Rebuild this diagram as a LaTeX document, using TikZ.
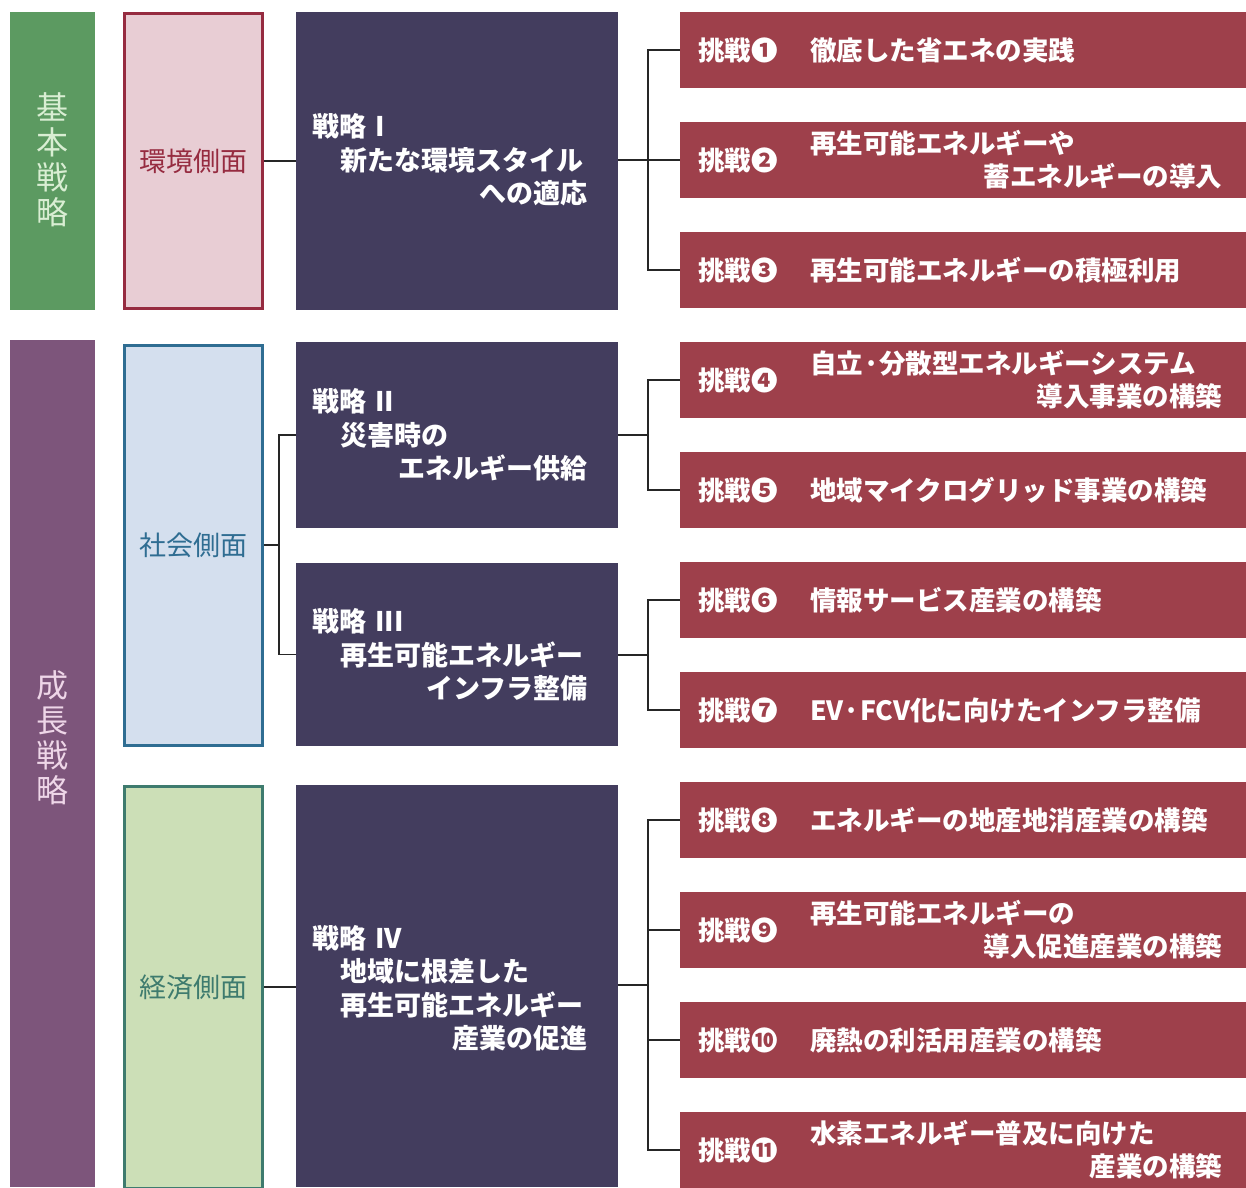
\documentclass[tikz,border=0pt]{standalone}
\usepackage{fontspec}
\setmainfont{Noto Sans CJK JP}
\usetikzlibrary{positioning}

\definecolor{basefill}{HTML}{5C9A61}
\definecolor{basetext}{HTML}{D9EED3}
\definecolor{growfill}{HTML}{7D557B}
\definecolor{growtext}{HTML}{EED6E8}
\definecolor{envfill}{HTML}{E8CDD4}
\definecolor{envline}{HTML}{962B40}
\definecolor{socfill}{HTML}{D4DFEE}
\definecolor{socline}{HTML}{2F6D92}
\definecolor{ecofill}{HTML}{CCDFB7}
\definecolor{ecoline}{HTML}{3E7B6E}
\definecolor{stratfill}{HTML}{433D5E}
\definecolor{chalfill}{HTML}{9E404B}

\begin{document}
\begin{tikzpicture}[x=1pt,y=-1pt,
    sidebar/.style={rectangle,inner sep=0pt,minimum width=85pt,align=center,
      font=\fontsize{32}{35}\selectfont},
    aspect/.style={rectangle,draw,line width=3pt,inner sep=0pt,minimum width=138pt,
      font=\fontsize{27}{33}\selectfont},
    strat/.style={rectangle,fill=stratfill,inner sep=0pt,minimum width=322pt},
    stext/.style={anchor=west,inner sep=0pt,text width=275pt,align=left,text=white,
      font=\bfseries\fontsize{27}{33.5}\selectfont},
    chal/.style={rectangle,fill=chalfill,inner sep=0pt,minimum width=566pt,minimum height=76pt},
    cnum/.style={anchor=west,inner sep=0pt,text=white,font=\bfseries\fontsize{26.5}{33}\selectfont},
    ctext/.style={anchor=west,inner sep=0pt,text width=412pt,align=left,text=white,
      font=\bfseries\fontsize{26.5}{33}\selectfont},
    link/.style={draw=black!85,line width=1.2pt}]
  \useasboundingbox (0,0) rectangle (1246,1187);

  % left bars
  \node[sidebar,fill=basefill,minimum height=298pt] (base) at (52.5,161) {};
  \node[text=basetext,font=\fontsize{32}{35}\selectfont,align=center,inner sep=0pt] (baset) at (52.5,160) {基\\本\\戦\\略};
  \node[sidebar,fill=growfill,minimum height=847pt] (grow) at (52.5,763.5) {};
  \node[text=growtext,font=\fontsize{32}{35}\selectfont,align=center,inner sep=0pt] (growt) at (52.5,738) {成\\長\\戦\\略};

  % aspects
  \node[aspect,fill=envfill,draw=envline,text=envline,minimum height=295pt] (env) at (193.5,161) {環境側面};
  \node[aspect,fill=socfill,draw=socline,text=socline,minimum height=400pt] (soc) at (193.5,545) {社会側面};
  \node[aspect,fill=ecofill,draw=ecoline,text=ecoline,minimum height=402pt] (eco) at (193.5,987) {経済側面};

  % strategies
  \node[strat,minimum height=298pt] (s1) at (457,161) {};
  \node[strat,minimum height=186pt] (s2) at (457,435) {};
  \node[strat,minimum height=183pt] (s3) at (457,654.5) {};
  \node[strat,minimum height=402pt] (s4) at (457,986) {};
  \node[stext] (s1t) at (312,160) {戦略 I\\\hspace*{28pt}新たな環境スタイル\\\hspace*{\fill}への適応};
  \node[stext] (s2t) at (312,435) {戦略 II\\\hspace*{28pt}災害時の\\\hspace*{\fill}エネルギー供給};
  \node[stext] (s3t) at (312,655) {戦略 III\\\hspace*{28pt}再生可能エネルギー\\\hspace*{\fill}インフラ整備};
  \node[stext] (s4t) at (312,988) {戦略 IV\\\hspace*{28pt}地域に根差した\\\hspace*{28pt}再生可能エネルギー\\\hspace*{\fill}産業の促進};

  % challenges
  \foreach \i/\cnr/\ctx in {
      1/❶/{徹底した省エネの実践},
      2/❷/{再生可能エネルギーや\\\hspace*{\fill}蓄エネルギーの導入},
      3/❸/{再生可能エネルギーの積極利用},
      4/❹/{自立·分散型エネルギーシステム\\\hspace*{\fill}導入事業の構築},
      5/❺/{地域マイクログリッド事業の構築},
      6/❻/{情報サービス産業の構築},
      7/❼/{EV·FCV化に向けたインフラ整備},
      8/❽/{エネルギーの地産地消産業の構築},
      9/❾/{再生可能エネルギーの\\\hspace*{\fill}導入促進産業の構築},
      10/❿/{廃熱の利活用産業の構築},
      11/⓫/{水素エネルギー普及に向けた\\\hspace*{\fill}産業の構築}} {
    \pgfmathsetmacro\yy{50+110*(\i-1)}
    \node[chal] (c\i) at (963,\yy) {};
    \node[cnum] (n\i) at (698,\yy) {挑戦\cnr};
    \node[ctext] (t\i) at (810,\yy) {\ctx};
  }

  % junctions
  \coordinate (jsoc) at (279,545);
  \coordinate (j1) at (648,160);
  \coordinate (j2) at (648,435);
  \coordinate (j3) at (648,655);
  \coordinate (j4) at (648,985);

  % connectors
  \draw[link] (env.east) -- (env.east -| s1.west);
  \draw[link] (soc.east) -- (jsoc);
  \draw[link] (s2.west) -| (jsoc) |- (s3.west);
  \draw[link] (eco.east) -- (eco.east -| s4.west);
  \draw[link] (s1.east |- j1) -- (c2.west);
  \draw[link] (c1.west) -| (j1) |- (c3.west);
  \draw[link] (s2.east |- j2) -- (j2);
  \draw[link] (c4.west) -| (j2) |- (c5.west);
  \draw[link] (s3.east |- j3) -- (j3);
  \draw[link] (c6.west) -| (j3) |- (c7.west);
  \draw[link] (s4.east |- j4) -- (j4);
  \draw[link] (c8.west) -| (j4) |- (c11.west);
  \draw[link] (c9.west) -- (c9.west -| j4);
  \draw[link] (c10.west) -- (c10.west -| j4);
\end{tikzpicture}
\end{document}
